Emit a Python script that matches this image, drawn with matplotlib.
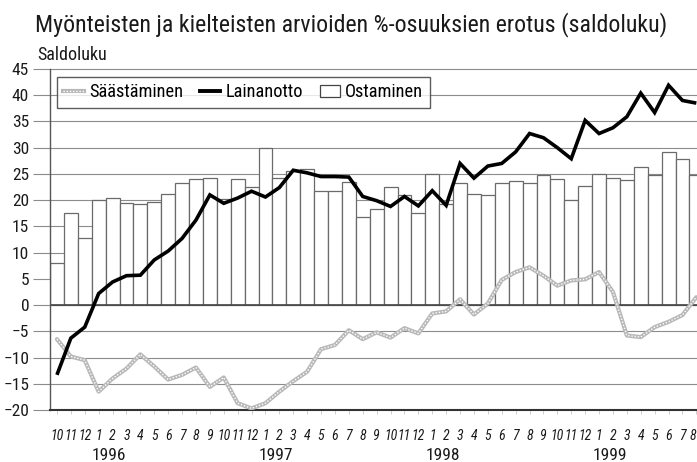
import numpy as np
import matplotlib
matplotlib.use('Agg')
import matplotlib.pyplot as plt
from matplotlib import font_manager as fm
from matplotlib.lines import Line2D
from matplotlib.patches import Patch
from matplotlib.transforms import blended_transform_factory

# ---------------- data ----------------
months = ['10', '11', '12',
          '1', '2', '3', '4', '5', '6', '7', '8', '9', '10', '11', '12',
          '1', '2', '3', '4', '5', '6', '7', '8', '9', '10', '11', '12',
          '1', '2', '3', '4', '5', '6', '7', '8', '9', '10', '11', '12',
          '1', '2', '3', '4', '5', '6', '7', '8']
years = ['1996', '1997', '1998', '1999']

ostaminen = [8.1, 17.5, 12.7, 20.0, 20.5, 19.4, 19.2, 19.7, 21.1, 23.3, 24.0, 24.2,
             20.3, 24.1, 22.6, 30.0, 24.3, 25.5, 26.0, 21.7, 21.8, 23.4, 16.7, 18.4,
             22.5, 20.9, 17.5, 24.9, 19.2, 23.2, 21.1, 20.9, 23.2, 23.6, 23.2, 24.8,
             24.0, 20.1, 22.7, 24.9, 24.3, 23.8, 26.3, 24.8, 29.1, 27.9, 24.8]

lainanotto = [-13.3, -6.3, -4.2, 2.2, 4.4, 5.6, 5.7, 8.6, 10.3, 12.7, 16.2, 21.0,
              19.4, 20.4, 21.7, 20.6, 22.4, 25.7, 25.2, 24.5, 24.5, 24.4, 20.7, 19.9,
              18.8, 20.7, 18.9, 21.8, 19.0, 27.0, 24.2, 26.5, 27.0, 29.2, 32.7, 31.9,
              30.0, 27.9, 35.2, 32.7, 33.8, 35.9, 40.4, 36.7, 41.9, 39.0, 38.5]

saastaminen = [-6.5, -9.8, -10.5, -16.5, -14.0, -12.1, -9.4, -11.7, -14.2, -13.3, -11.9, -15.6,
               -13.8, -18.7, -19.7, -18.7, -16.5, -14.5, -12.7, -8.4, -7.6, -4.8, -6.5, -5.2,
               -6.2, -4.4, -5.4, -1.6, -1.2, 1.1, -1.8, 0.3, 4.8, 6.3, 7.2, 5.6,
               3.7, 4.7, 4.9, 6.3, 2.5, -5.8, -6.1, -4.2, -3.2, -1.9, 1.5]

title = 'Myönteisten ja kielteisten arvioiden %-osuuksien erotus (saldoluku)'
ylabel = 'Saldoluku'
series_names = ['Säästäminen', 'Lainanotto', 'Ostaminen']

# ---------------- font choice (prefer a condensed face) ----------------
installed = {f.name for f in fm.fontManager.ttflist}
main_font = 'DejaVu Sans'
for cand in ['Roboto Condensed', 'Liberation Sans Narrow', 'Arial Narrow',
             'DejaVu Sans Condensed', 'Roboto', 'Liberation Sans']:
    if cand in installed:
        main_font = cand
        break
condensed = main_font in ('Roboto Condensed', 'Liberation Sans Narrow', 'Arial Narrow')
plt.rcParams['font.family'] = [main_font, 'DejaVu Sans']

W, H = 697, 462
fig = plt.figure(figsize=(W / 100, H / 100), dpi=100)
renderer = fig.canvas.get_renderer()


def fit_width(txt, target, iters=3):
    for _ in range(iters):
        w = txt.get_window_extent(renderer).width
        if w <= 0:
            break
        txt.set_fontsize(txt.get_fontsize() * target / w)


ax = fig.add_axes([50 / W, 52 / H, 647 / W, 341 / H])

x = np.arange(len(months))
grid_c = '#8c8c8c'

ax.bar(x, ostaminen, width=1.0, color='white', edgecolor='#6a6a6a',
       linewidth=0.9, zorder=2)
ax.plot(x, saastaminen, color='#b8b8b8', lw=3.0, zorder=3,
        solid_capstyle='round', solid_joinstyle='round')
ax.plot(x, saastaminen, color='white', lw=1.0, ls=(0, (1, 1.3)), zorder=3.1)
ax.plot(x, lainanotto, color='black', lw=2.6, zorder=4,
        solid_joinstyle='miter', solid_capstyle='butt')

ax.set_xlim(-0.5, -0.5 + 647 / 13.9)
ax.set_ylim(-20, 45)

for v in range(-15, 50, 5):
    if v == 0:
        continue
    ax.axhline(v, color=grid_c, lw=0.8, zorder=1, clip_on=False)
ax.axhline(0, color='#444444', lw=1.2, zorder=2.5)

for s in ['top', 'right']:
    ax.spines[s].set_visible(False)
ax.spines['left'].set_color('#555555')
ax.spines['left'].set_linewidth(1.0)
ax.spines['bottom'].set_color('#333333')
ax.spines['bottom'].set_linewidth(1.5)

ysize = 12.5 if condensed else 10.5
xsize = 10.0 if condensed else 7.5
yrsize = 12.5 if condensed else 11

ax.set_yticks(range(-20, 50, 5))
ax.tick_params(axis='y', length=12, width=0.8, color=grid_c, pad=3,
               labelsize=ysize, labelcolor='#1a1a1a')

ax.set_xticks(x)
ax.set_xticklabels(months, fontstyle='italic', fontsize=xsize, color='#1a1a1a')
ax.tick_params(axis='x', length=3, width=0.6, color='#c8c8c8', pad=11)
ax.get_xticklabels()[-1].set_horizontalalignment('right')

trans = blended_transform_factory(ax.transData, ax.transAxes)
jan_idx = [i for i, m in enumerate(months) if m == '1']
for yr, j in zip(years, jan_idx):
    ax.text(j + 0.75, (410 - 455) / 341, yr, transform=trans,
            ha='center', va='center', fontsize=yrsize, color='#1a1a1a')

t = fig.text(35 / W, 1 - 31.7 / H, title, fontsize=16.3, va='baseline', ha='left',
             color='#1a1a1a')
fit_width(t, 630)
s = fig.text(37 / W, 1 - 59.5 / H, ylabel, fontsize=12.5, va='baseline', ha='left',
             color='#1a1a1a')
fit_width(s, 72)
if s.get_fontsize() > 13:
    s.set_fontsize(13)

h_s = (Line2D([], [], color='#b8b8b8', lw=3.0),
       Line2D([], [], color='white', lw=1.0, ls=(0, (1, 1.3))))
h_l = Line2D([], [], color='black', lw=2.8)
h_o = Patch(facecolor='white', edgecolor='#444444', linewidth=0.9)


def make_legend(fs):
    lg = fig.legend([h_s, h_l, h_o], series_names, loc='upper left',
                    bbox_to_anchor=(57 / W, 1 - 77 / H), bbox_transform=fig.transFigure,
                    ncol=3, fontsize=fs, frameon=True, fancybox=False,
                    edgecolor='#333333', borderaxespad=0, handlelength=1.1,
                    handletextpad=0.3, columnspacing=0.9, borderpad=0.35)
    lg.get_frame().set_linewidth(1.0)
    lg.set_zorder(10)
    return lg


fs = 13.5
leg = make_legend(fs)
for _ in range(3):
    w = leg.get_window_extent(renderer).width
    fs = fs * 374 / w
    leg.remove()
    leg = make_legend(fs)

fig.savefig('out.png', dpi=100)
